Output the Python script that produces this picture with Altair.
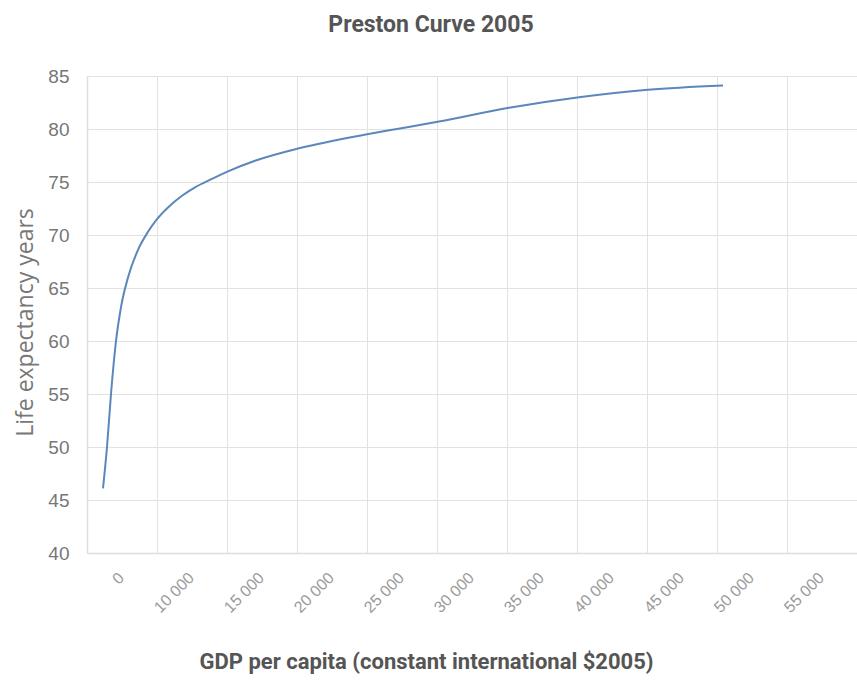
import altair as alt
import pandas as pd

# GDP per capita positions (axis units) and life expectancy
gdp = [3643, 3929, 4214, 4571, 4929, 5429, 6143, 6857, 7500, 8286, 9286, 10214,
       11429, 12571, 14500, 17714, 22500, 24857, 27643, 32643, 37643, 42571, 47929]
life = [46.1, 50.0, 55.0, 60.0, 63.2, 66.0, 68.6, 70.3, 71.5, 72.6, 73.7, 74.5,
        75.3, 76.0, 77.0, 78.2, 79.5, 80.05, 80.7, 82.0, 83.0, 83.7, 84.1]

x_grid = [2500, 7500, 12500, 17500, 22500, 27500, 32500, 37500, 42500, 47500, 52500]
y_ticks = [40, 45, 50, 55, 60, 65, 70, 75, 80, 85]

df = pd.DataFrame({"gdp": gdp, "life": life})

chart = alt.Chart(df).mark_line(
    color="#5b87bb", strokeWidth=2, interpolate="monotone"
).encode(
    x=alt.X("gdp:Q",
            scale=alt.Scale(domain=[2500, 57500], nice=False, zero=False),
            axis=alt.Axis(
                values=x_grid,
                labelExpr="datum.value < 5000 ? '0' : replace(format(datum.value + 2500, ','), ',', ' ')",
                labelAngle=-45, labelAlign="right", labelBaseline="middle",
                labelOffset=34, labelPadding=22, ticks=False,
                labelFont="Liberation Sans", labelFontSize=16, labelColor="#9a9a9a",
                gridColor="#e2e2e2", domainColor="#dddddd", domainWidth=1.5,
                title="GDP per capita (constant international $2005)",
                titleFont="Liberation Sans Narrow, Roboto", titleFontSize=22,
                titleFontWeight="bold", titleColor="#555555",
                titleX=339, titleY=115, titleAlign="center", titleBaseline="alphabetic",
                labelOverlap=False, labelFlush=False,
            )),
    y=alt.Y("life:Q",
            scale=alt.Scale(domain=[40, 85], nice=False, zero=False),
            axis=alt.Axis(
                values=y_ticks, ticks=False, labelPadding=18,
                labelFont="Liberation Sans", labelFontSize=19, labelColor="#777777",
                gridColor="#e2e2e2", domainColor="#dddddd", domainWidth=1.5,
                title="Life expectancy years",
                titleFont="Open Sans", titleFontSize=23, titleFontWeight="normal",
                titleColor="#777777", titleAngle=-90,
                titleX=-55, titleY=246, titleAlign="center", titleBaseline="alphabetic",
            )),
).properties(
    width=770, height=477,
    autosize=alt.AutoSizeParams(type="none"),
    padding={"left": 87, "top": 76, "right": 0, "bottom": 131},
    title=alt.TitleParams(
        "Preston Curve 2005", font="Liberation Sans Narrow, Roboto", fontSize=23,
        fontWeight="bold", color="#555555", anchor="middle", frame="group",
        baseline="alphabetic", offset=12, dx=-41,
    ),
).configure_view(stroke=None)

chart.save("out.html", embed_options={"renderer": "svg", "actions": False})
